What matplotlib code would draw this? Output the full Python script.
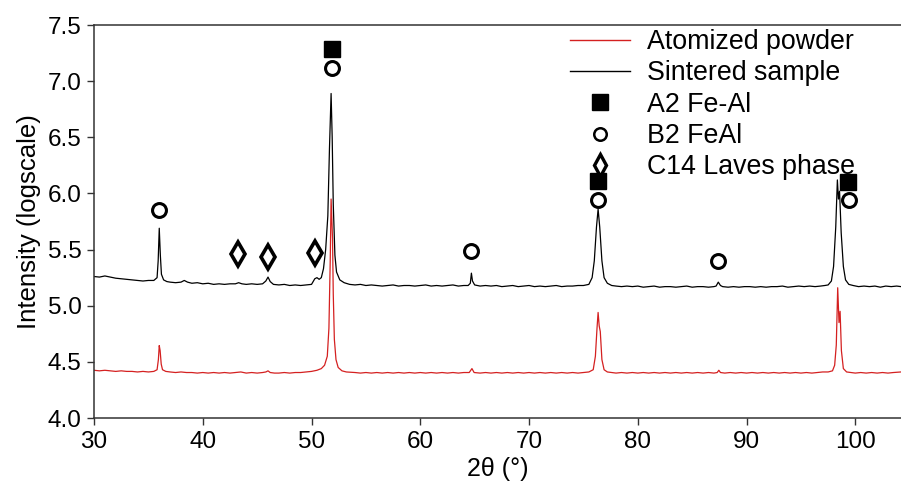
#XRD patterns: atomized powder vs sintered sample

import matplotlib
matplotlib.use('Agg')
import matplotlib.pyplot as plt
from matplotlib.lines import Line2D

# sintered sample (black)
black_x = [30.0, 30.5, 31.0, 31.5, 32.0, 32.5, 33.0, 33.5, 34.0, 34.5, 35.0, 35.5,
           35.8, 35.9, 36.0, 36.1, 36.2, 36.4, 36.7, 37.0, 37.5, 38.0, 38.3, 38.6,
           39.0, 39.5, 40.0, 40.5, 41.0, 41.5, 42.0, 42.5, 43.0, 43.3, 43.6, 44.0,
           44.5, 45.0, 45.5, 45.8, 46.0, 46.2, 46.5, 47.0, 47.5, 48.0, 48.5, 49.0,
           49.5, 50.0, 50.3, 50.5, 50.7, 50.9, 51.1, 51.3, 51.5, 51.65, 51.8, 51.9,
           52.0, 52.15, 52.3, 52.6, 53.0, 53.5, 54.0, 54.5, 55.0, 55.5, 56.0, 56.5,
           57.0, 57.5, 58.0, 58.5, 59.0, 59.5, 60.0, 60.5, 61.0, 61.5, 62.0, 62.5,
           63.0, 63.5, 64.0, 64.4, 64.6, 64.7, 64.8, 65.0, 65.5, 66.0, 66.5, 67.0,
           67.5, 68.0, 68.5, 69.0, 69.5, 70.0, 70.5, 71.0, 71.5, 72.0, 72.5, 73.0,
           73.5, 74.0, 74.5, 75.0, 75.5, 75.8, 76.0, 76.2, 76.35, 76.5, 76.7, 76.9,
           77.2, 77.6, 78.0, 78.5, 79.0, 79.5, 80.0, 80.5, 81.0, 81.5, 82.0, 82.5,
           83.0, 83.5, 84.0, 84.5, 85.0, 85.5, 86.0, 86.5, 87.0, 87.2, 87.4, 87.6,
           87.8, 88.3, 88.8, 89.3, 89.8, 90.3, 90.8, 91.3, 91.8, 92.3, 92.8, 93.3,
           93.8, 94.3, 94.8, 95.3, 95.8, 96.3, 96.8, 97.2, 97.5, 97.8, 98.0, 98.2,
           98.35, 98.45, 98.55, 98.7, 98.9, 99.1, 99.4, 99.8, 100.3, 100.8, 101.3, 101.8,
           102.3, 102.8, 103.3, 103.8, 104.2]
black_y = [5.26, 5.255, 5.265, 5.255, 5.245, 5.24, 5.235, 5.23, 5.225, 5.22, 5.225, 5.225,
           5.25, 5.40, 5.69, 5.45, 5.28, 5.23, 5.215, 5.21, 5.205, 5.21, 5.225, 5.21,
           5.20, 5.205, 5.195, 5.20, 5.19, 5.195, 5.19, 5.195, 5.195, 5.205, 5.195, 5.19,
           5.195, 5.19, 5.195, 5.22, 5.255, 5.215, 5.19, 5.185, 5.19, 5.18, 5.185, 5.18,
           5.185, 5.19, 5.24, 5.25, 5.235, 5.25, 5.33, 5.50, 5.80, 6.40, 6.89, 6.50,
           5.90, 5.45, 5.30, 5.23, 5.205, 5.19, 5.185, 5.19, 5.18, 5.185, 5.18, 5.175,
           5.18, 5.185, 5.175, 5.18, 5.18, 5.175, 5.18, 5.185, 5.175, 5.18, 5.175, 5.18,
           5.185, 5.175, 5.18, 5.18, 5.20, 5.29, 5.22, 5.185, 5.175, 5.18, 5.175, 5.18,
           5.17, 5.175, 5.18, 5.17, 5.175, 5.18, 5.17, 5.175, 5.17, 5.175, 5.18, 5.17,
           5.175, 5.175, 5.18, 5.18, 5.19, 5.25, 5.40, 5.70, 5.86, 5.70, 5.40, 5.25,
           5.20, 5.18, 5.175, 5.17, 5.175, 5.17, 5.175, 5.165, 5.17, 5.175, 5.165, 5.17,
           5.17, 5.165, 5.17, 5.175, 5.165, 5.17, 5.17, 5.165, 5.17, 5.175, 5.21, 5.18,
           5.17, 5.165, 5.17, 5.165, 5.17, 5.17, 5.165, 5.17, 5.165, 5.17, 5.17, 5.175,
           5.165, 5.17, 5.175, 5.17, 5.175, 5.17, 5.175, 5.18, 5.185, 5.22, 5.35, 5.70,
           6.12, 5.95, 6.02, 5.65, 5.35, 5.23, 5.19, 5.18, 5.17, 5.175, 5.17, 5.175,
           5.165, 5.175, 5.17, 5.175, 5.17]

# atomized powder (red)
red_x = [30.0, 30.5, 31.0, 31.5, 32.0, 32.5, 33.0, 33.5, 34.0, 34.5, 35.0, 35.5,
         35.8, 35.92, 36.0, 36.08, 36.18, 36.3, 36.6, 37.0, 37.5, 38.0, 38.5, 39.0,
         39.5, 40.0, 40.5, 41.0, 41.5, 42.0, 42.5, 43.0, 43.5, 44.0, 44.5, 45.0,
         45.5, 45.8, 46.0, 46.2, 46.6, 47.0, 47.5, 48.0, 48.5, 49.0, 49.5, 50.0,
         50.5, 50.9, 51.2, 51.45, 51.6, 51.72, 51.8, 51.87, 51.93, 52.0, 52.1, 52.25,
         52.45, 52.8, 53.2, 54.0, 54.5, 55.0, 55.5, 56.0, 56.5, 57.0, 57.5, 58.0,
         58.5, 59.0, 59.5, 60.0, 60.5, 61.0, 61.5, 62.0, 62.5, 63.0, 63.5, 64.0,
         64.5, 64.75, 64.95, 65.5, 66.0, 66.5, 67.0, 67.5, 68.0, 68.5, 69.0, 69.5,
         70.0, 70.5, 71.0, 71.5, 72.0, 72.5, 73.0, 73.5, 74.0, 74.5, 75.0, 75.5,
         75.9, 76.1, 76.25, 76.35, 76.45, 76.55, 76.7, 76.9, 77.2, 77.6, 78.0, 78.5,
         79.0, 79.5, 80.0, 80.5, 81.0, 81.5, 82.0, 82.5, 83.0, 83.5, 84.0, 84.5,
         85.0, 85.5, 86.0, 86.5, 87.0, 87.3, 87.45, 87.6, 88.0, 88.5, 89.0, 89.5,
         90.0, 90.5, 91.0, 91.5, 92.0, 92.5, 93.0, 93.5, 94.0, 94.5, 95.0, 95.5,
         96.0, 96.5, 97.0, 97.5, 97.9, 98.1, 98.25, 98.38, 98.5, 98.6, 98.72, 98.9,
         99.2, 99.6, 100.0, 100.5, 101.0, 101.5, 102.0, 102.5, 103.0, 103.5, 104.2]
red_y = [4.425, 4.42, 4.425, 4.42, 4.415, 4.42, 4.415, 4.415, 4.41, 4.415, 4.41, 4.415,
         4.43, 4.52, 4.645, 4.60, 4.48, 4.43, 4.415, 4.41, 4.405, 4.41, 4.405, 4.405,
         4.40, 4.405, 4.40, 4.405, 4.40, 4.405, 4.40, 4.405, 4.41, 4.40, 4.405, 4.40,
         4.405, 4.41, 4.42, 4.405, 4.40, 4.40, 4.405, 4.40, 4.405, 4.405, 4.41, 4.415,
         4.425, 4.44, 4.47, 4.55, 4.80, 5.40, 5.95, 5.75, 5.60, 5.10, 4.70, 4.52,
         4.45, 4.42, 4.41, 4.405, 4.40, 4.405, 4.40, 4.405, 4.40, 4.405, 4.40, 4.405,
         4.40, 4.405, 4.40, 4.405, 4.40, 4.405, 4.40, 4.405, 4.40, 4.405, 4.40, 4.405,
         4.405, 4.44, 4.405, 4.40, 4.405, 4.40, 4.405, 4.40, 4.405, 4.40, 4.405, 4.40,
         4.405, 4.40, 4.405, 4.40, 4.405, 4.40, 4.405, 4.40, 4.405, 4.40, 4.405, 4.41,
         4.43, 4.55, 4.80, 4.94, 4.82, 4.77, 4.52, 4.43, 4.41, 4.405, 4.40, 4.405,
         4.40, 4.405, 4.40, 4.405, 4.40, 4.405, 4.40, 4.405, 4.40, 4.405, 4.40, 4.405,
         4.40, 4.405, 4.40, 4.405, 4.40, 4.405, 4.425, 4.405, 4.40, 4.405, 4.40, 4.405,
         4.40, 4.405, 4.40, 4.405, 4.40, 4.405, 4.40, 4.405, 4.40, 4.405, 4.40, 4.405,
         4.40, 4.405, 4.41, 4.41, 4.42, 4.47, 4.65, 5.16, 4.85, 4.95, 4.60, 4.44,
         4.41, 4.405, 4.40, 4.405, 4.40, 4.405, 4.40, 4.405, 4.40, 4.405, 4.41]

# phase markers
a2_x = [51.85, 76.3, 99.35]
a2_y = [7.29, 6.11, 6.10]
b2_x = [36.0, 51.85, 64.65, 76.3, 87.35, 99.4]
b2_y = [5.85, 7.12, 5.49, 5.94, 5.40, 5.94]
c14_x = [43.25, 46.0, 50.35]
c14_y = [5.46, 5.43, 5.47]

xTicks = [30, 40, 50, 60, 70, 80, 90, 100]
yTicks = [4.0, 4.5, 5.0, 5.5, 6.0, 6.5, 7.0, 7.5]

redColor = '#d42020'

def main():
    plt.rcParams['font.family'] = ['Liberation Sans', 'DejaVu Sans']

    fig = plt.figure(figsize=(9.01, 4.94), dpi=100)
    ax = fig.add_axes([94/901, 1 - 418/494, 1 - 94/901, 393/494])

    ax.plot(red_x, red_y, color=redColor, lw=0.9)
    ax.plot(black_x, black_y, color='k', lw=0.9)

    ax.plot(a2_x, a2_y, 's', color='k', ms=11.5, ls='none')
    ax.plot(b2_x, b2_y, 'o', mfc='white', mec='k', mew=2.2, ms=10, ls='none')
    ax.plot(c14_x, c14_y, 'd', mfc='white', mec='k', mew=2.6, ms=12, ls='none')

    ax.set_xlim([30, 104.2])
    ax.set_ylim([4.0, 7.5])
    ax.set_xticks(xTicks)
    ax.set_yticks(yTicks)
    ax.set_yticklabels([f'{v:.1f}' for v in yTicks])

    ax.spines['right'].set_visible(False)
    for s in ['left', 'bottom', 'top']:
        ax.spines[s].set_linewidth(1.1)
        ax.spines[s].set_color('#333333')
    ax.tick_params(direction='out', length=5, width=1, labelsize=17.5, colors='#333333',
                   labelcolor='k', pad=4)

    ax.set_xlabel('2θ (°)', fontsize=18, labelpad=3)
    ax.set_ylabel('Intensity (logscale)', fontsize=18.5, labelpad=5)

    handles = [
        Line2D([], [], color=redColor, lw=1),
        Line2D([], [], color='k', lw=1),
        Line2D([], [], marker='s', color='k', ms=11.5, ls='none'),
        Line2D([], [], marker='o', mfc='white', mec='k', mew=1.8, ms=9, ls='none'),
        Line2D([], [], marker='d', mfc='white', mec='k', mew=2.4, ms=11, ls='none'),
    ]
    labels = ['Atomized powder', 'Sintered sample', 'A2 Fe-Al', 'B2 FeAl', 'C14 Laves phase']
    ax.legend(handles, labels, loc='upper left', bbox_to_anchor=(0.59, 0.99),
              frameon=False, fontsize=19.3, handlelength=2.25, handletextpad=0.6,
              labelspacing=0.2, borderpad=0, borderaxespad=0)

    fig.savefig('out.png', dpi=100)

    return

if __name__ == '__main__':
    main()
